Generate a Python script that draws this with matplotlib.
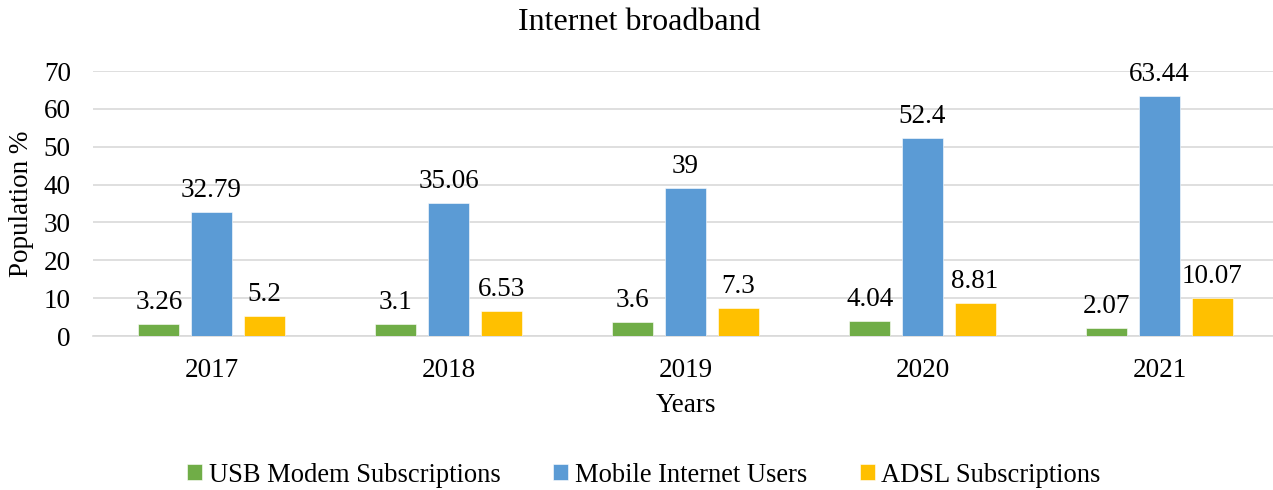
import numpy as np
import matplotlib.pyplot as plt

plt.rcParams['font.family'] = ['Liberation Serif', 'DejaVu Serif']

# Chart data
years = ['2017', '2018', '2019', '2020', '2021']
usb_modem = [3.26, 3.1, 3.6, 4.04, 2.07]
mobile_internet = [32.79, 35.06, 39, 52.4, 63.44]
adsl = [5.2, 6.53, 7.3, 8.81, 10.07]

series = [
    ('USB Modem Subscriptions', usb_modem, '#70AD47'),
    ('Mobile Internet Users', mobile_internet, '#5B9BD5'),
    ('ADSL Subscriptions', adsl, '#FFC000'),
]

W, H = 1273, 490
fig = plt.figure(figsize=(W / 100, H / 100), dpi=100)
# axes in pixel terms: x 93..1278, y 71..336
ax = fig.add_axes([93 / W, 1 - 336 / H, (1278 - 93) / W, (336 - 71) / H])

x = np.arange(len(years))
width = 0.173
offsets = [-0.222, 0, 0.222]

for (name, vals, color), off in zip(series, offsets):
    bars = ax.bar(x + off, vals, width, color=color, label=name, zorder=3,
                  edgecolor='white', linewidth=0.4)
    for b, v in zip(bars, vals):
        ax.annotate(f'{v:g}', (b.get_x() + b.get_width() / 2, v),
                    xytext=(0, 15.5), textcoords='offset points',
                    ha='center', va='center', fontsize=19.5)

ax.set_xlim(-0.5, len(years) - 0.5)
ax.set_ylim(0, 70)
ax.set_yticks(range(0, 71, 10))
ax.set_xticks(x)
ax.set_xticklabels(years)
ax.tick_params(axis='both', labelsize=19.5, length=0)
ax.tick_params(axis='x', pad=16)
ax.tick_params(axis='y', pad=16)
ax.grid(axis='y', color='#D9D9D9', linewidth=1.2, zorder=0)
for side in ['top', 'right', 'left']:
    ax.spines[side].set_visible(False)
ax.spines['bottom'].set_color('#D9D9D9')
ax.spines['bottom'].set_linewidth(1.2)

fig.text(639 / W, 1 - 23 / H, 'Internet broadband', fontsize=23,
         ha='center', va='center')
ax.set_xlabel('Years', fontsize=19.5, va='center')
ax.xaxis.set_label_coords((686 - 93) / 1185, (336 - 406) / 265)
ax.set_ylabel('Population %', fontsize=19.5, va='center')
ax.yaxis.set_label_coords((21 - 93) / 1185, 0.5)

ax.legend(loc='center', bbox_to_anchor=((644 - 93) / 1185, (336 - 475) / 265),
          ncol=3, frameon=False, fontsize=19.1, handlelength=0.55,
          handleheight=0.55, columnspacing=2.0, handletextpad=0.25)

fig.savefig('out.png', dpi=100)
